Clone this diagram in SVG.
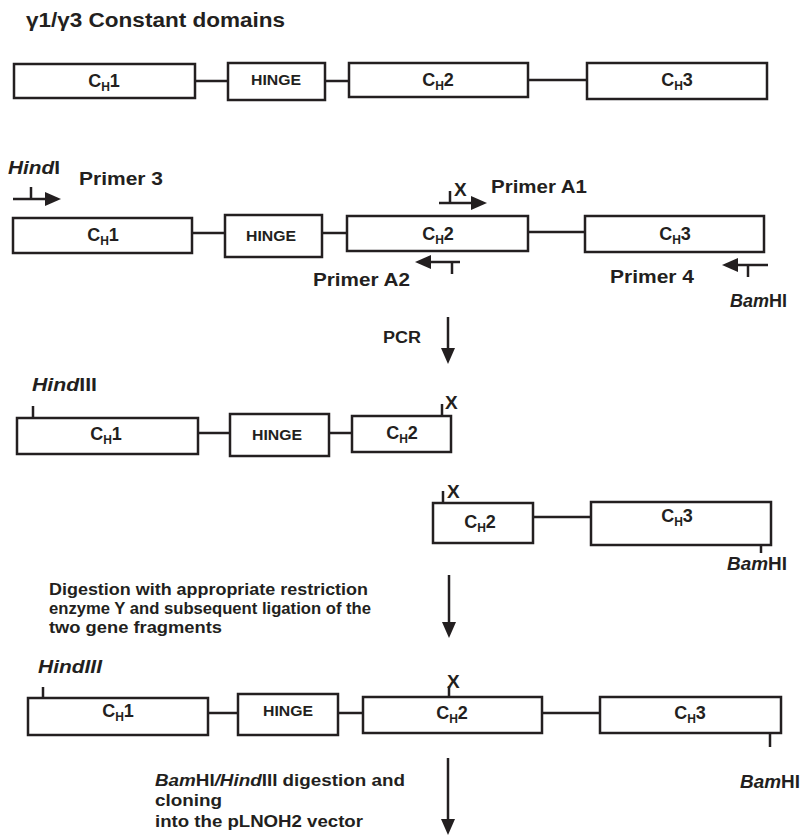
<svg xmlns="http://www.w3.org/2000/svg" width="805" height="837" viewBox="0 0 805 837">
<style>
.box{fill:#fff;stroke:#231f20;stroke-width:2.5}
.ln{fill:none;stroke:#231f20;stroke-width:2.5}
text{font-family:"Liberation Sans",Arial,Helvetica,sans-serif;font-weight:bold;fill:#231f20}
.ch{font-size:18px;text-anchor:middle}
.ch .s{font-size:12px}
.hg{font-size:15px;text-anchor:middle}
.lb{font-size:17.5px}
.xx{font-size:19px}
.tx{font-size:16px}
.it{font-style:italic}
</style>
<defs>
<marker id="ah" markerUnits="userSpaceOnUse" markerWidth="17" markerHeight="15" refX="1" refY="7" orient="auto"><path d="M0,0 L16,7 L0,14 z" fill="#231f20"/></marker>
</defs>
<rect width="805" height="837" fill="#fff"/>
<text x="26" y="27" font-size="20" textLength="259" lengthAdjust="spacingAndGlyphs">γ1/γ3 Constant domains</text>

<!-- Row 1 -->
<g id="r1-ch1"><rect class="box" x="14" y="64" width="181" height="34"/><text class="ch" x="104" y="87">C<tspan class="s" dy="4">H</tspan><tspan dy="-4">1</tspan></text></g>
<g id="r1-hinge"><rect class="box" x="228" y="63" width="97" height="37"/><text class="hg" x="276" y="85" textLength="50" lengthAdjust="spacingAndGlyphs">HINGE</text></g>
<g id="r1-ch2"><rect class="box" x="349" y="63" width="179" height="34"/><text class="ch" x="438" y="86">C<tspan class="s" dy="4">H</tspan><tspan dy="-4">2</tspan></text></g>
<g id="r1-ch3"><rect class="box" x="587" y="63" width="180" height="36"/><text class="ch" x="677" y="86">C<tspan class="s" dy="4">H</tspan><tspan dy="-4">3</tspan></text></g>

<!-- Row 2 -->
<g id="r2-ch1"><rect class="box" x="13" y="218" width="179" height="35"/><text class="ch" x="103" y="241">C<tspan class="s" dy="4">H</tspan><tspan dy="-4">1</tspan></text></g>
<g id="r2-hinge"><rect class="box" x="225" y="215" width="97" height="42"/><text class="hg" x="271" y="241" textLength="50" lengthAdjust="spacingAndGlyphs">HINGE</text></g>
<g id="r2-ch2"><rect class="box" x="347" y="216" width="181" height="35"/><text class="ch" x="438" y="240">C<tspan class="s" dy="4">H</tspan><tspan dy="-4">2</tspan></text></g>
<g id="r2-ch3"><rect class="box" x="585" y="216" width="179" height="36"/><text class="ch" x="675" y="240">C<tspan class="s" dy="4">H</tspan><tspan dy="-4">3</tspan></text></g>
<g id="primer3"><text class="lb" x="8" y="174" textLength="52" lengthAdjust="spacingAndGlyphs"><tspan class="it">Hind</tspan>I</text><text class="lb" x="79" y="185" textLength="84" lengthAdjust="spacingAndGlyphs">Primer 3</text></g>
<g id="primerA1"><text class="xx" x="454" y="196">X</text><text class="lb" x="491" y="193" textLength="96" lengthAdjust="spacingAndGlyphs">Primer A1</text></g>
<g id="primerA2"><text class="lb" x="313" y="286" textLength="97" lengthAdjust="spacingAndGlyphs">Primer A2</text></g>
<g id="primer4"><text class="lb" x="610" y="283" textLength="84" lengthAdjust="spacingAndGlyphs">Primer 4</text><text class="lb" x="730" y="307" textLength="57" lengthAdjust="spacingAndGlyphs"><tspan class="it">Bam</tspan>HI</text></g>
<text class="tx" x="383" y="343" textLength="38" lengthAdjust="spacingAndGlyphs">PCR</text>

<!-- Row 3 -->
<text class="lb" x="32" y="391" textLength="65" lengthAdjust="spacingAndGlyphs"><tspan class="it">Hind</tspan>III</text>
<g id="r3-ch1"><rect class="box" x="17" y="418" width="181" height="36"/><text class="ch" x="106" y="440">C<tspan class="s" dy="4">H</tspan><tspan dy="-4">1</tspan></text></g>
<g id="r3-hinge"><rect class="box" x="230" y="414" width="99" height="42"/><text class="hg" x="277" y="440" textLength="50" lengthAdjust="spacingAndGlyphs">HINGE</text></g>
<g id="r3-ch2"><rect class="box" x="352" y="416" width="99" height="36"/><text class="ch" x="402" y="439">C<tspan class="s" dy="4">H</tspan><tspan dy="-4">2</tspan></text></g>
<text class="xx" x="445" y="409">X</text>

<!-- Row 4 -->
<g id="r4-ch2"><rect class="box" x="433" y="503" width="100" height="40"/><text class="ch" x="480" y="528">C<tspan class="s" dy="4">H</tspan><tspan dy="-4">2</tspan></text></g>
<g id="r4-ch3"><rect class="box" x="591" y="502" width="180" height="43"/><text class="ch" x="677" y="522">C<tspan class="s" dy="4">H</tspan><tspan dy="-4">3</tspan></text></g>
<text class="xx" x="447" y="498">X</text>
<text class="lb" x="727" y="570" textLength="60" lengthAdjust="spacingAndGlyphs"><tspan class="it">Bam</tspan>HI</text>
<g id="digestion-note">
<text class="tx" x="49" y="595" textLength="319" lengthAdjust="spacingAndGlyphs">Digestion with appropriate restriction</text>
<text class="tx" x="49" y="614" textLength="322" lengthAdjust="spacingAndGlyphs">enzyme Y and subsequent ligation of the</text>
<text class="tx" x="49" y="633" textLength="173" lengthAdjust="spacingAndGlyphs">two gene fragments</text>
</g>

<!-- Row 5 -->
<text class="lb it" x="38" y="673" textLength="64" lengthAdjust="spacingAndGlyphs">HindIII</text>
<g id="r5-ch1"><rect class="box" x="28" y="698" width="180" height="37"/><text class="ch" x="118" y="717">C<tspan class="s" dy="4">H</tspan><tspan dy="-4">1</tspan></text></g>
<g id="r5-hinge"><rect class="box" x="238" y="694" width="100" height="41"/><text class="hg" x="288" y="716" textLength="50" lengthAdjust="spacingAndGlyphs">HINGE</text></g>
<g id="r5-ch2"><rect class="box" x="363" y="697" width="179" height="36"/><text class="ch" x="452" y="719">C<tspan class="s" dy="4">H</tspan><tspan dy="-4">2</tspan></text></g>
<g id="r5-ch3"><rect class="box" x="600" y="697" width="181" height="36"/><text class="ch" x="690" y="719">C<tspan class="s" dy="4">H</tspan><tspan dy="-4">3</tspan></text></g>
<text class="xx" x="447" y="688">X</text>
<text class="lb" x="740" y="788" textLength="60" lengthAdjust="spacingAndGlyphs"><tspan class="it">Bam</tspan>HI</text>
<g id="cloning-note">
<text class="tx" x="155" y="786" textLength="250" lengthAdjust="spacingAndGlyphs"><tspan class="it">Bam</tspan>HI<tspan class="it">/Hind</tspan>III digestion and</text>
<text class="tx" x="155" y="806" textLength="67" lengthAdjust="spacingAndGlyphs">cloning</text>
<text class="tx" x="155" y="827" textLength="208" lengthAdjust="spacingAndGlyphs">into the pLNOH2 vector</text>
</g>

<g id="connectors">
<line class="ln" x1="195" y1="81" x2="228" y2="81"/>
<line class="ln" x1="325" y1="81" x2="349" y2="81"/>
<line class="ln" x1="528" y1="80" x2="587" y2="80"/>
<line class="ln" x1="192" y1="233" x2="225" y2="233"/>
<line class="ln" x1="322" y1="233" x2="347" y2="233"/>
<line class="ln" x1="528" y1="232" x2="585" y2="232"/>
<line class="ln" x1="13" y1="199" x2="46" y2="199" marker-end="url(#ah)"/>
<line class="ln" x1="31" y1="187" x2="31" y2="199"/>
<line class="ln" x1="439" y1="203" x2="472" y2="203" marker-end="url(#ah)"/>
<line class="ln" x1="450" y1="191" x2="450" y2="203"/>
<line class="ln" x1="460" y1="262" x2="430" y2="262" marker-end="url(#ah)"/>
<line class="ln" x1="452" y1="262" x2="452" y2="274"/>
<line class="ln" x1="768" y1="265" x2="737" y2="265" marker-end="url(#ah)"/>
<line class="ln" x1="748" y1="265" x2="748" y2="277"/>
<line class="ln" x1="448" y1="317" x2="448" y2="349" marker-end="url(#ah)"/>
<line class="ln" x1="33" y1="406" x2="33" y2="418"/>
<line class="ln" x1="198" y1="433" x2="230" y2="433"/>
<line class="ln" x1="329" y1="433" x2="352" y2="433"/>
<line class="ln" x1="442" y1="404" x2="442" y2="416"/>
<line class="ln" x1="443" y1="491" x2="443" y2="503"/>
<line class="ln" x1="533" y1="517" x2="591" y2="517"/>
<line class="ln" x1="761" y1="545" x2="761" y2="553"/>
<line class="ln" x1="449" y1="575" x2="449" y2="623" marker-end="url(#ah)"/>
<line class="ln" x1="43" y1="687" x2="43" y2="698"/>
<line class="ln" x1="208" y1="713" x2="238" y2="713"/>
<line class="ln" x1="338" y1="713" x2="363" y2="713"/>
<line class="ln" x1="542" y1="713" x2="600" y2="713"/>
<line class="ln" x1="449" y1="686" x2="449" y2="697"/>
<line class="ln" x1="770" y1="733" x2="770" y2="747"/>
<line class="ln" x1="448" y1="758" x2="448" y2="820" marker-end="url(#ah)"/>
</g>
</svg>
